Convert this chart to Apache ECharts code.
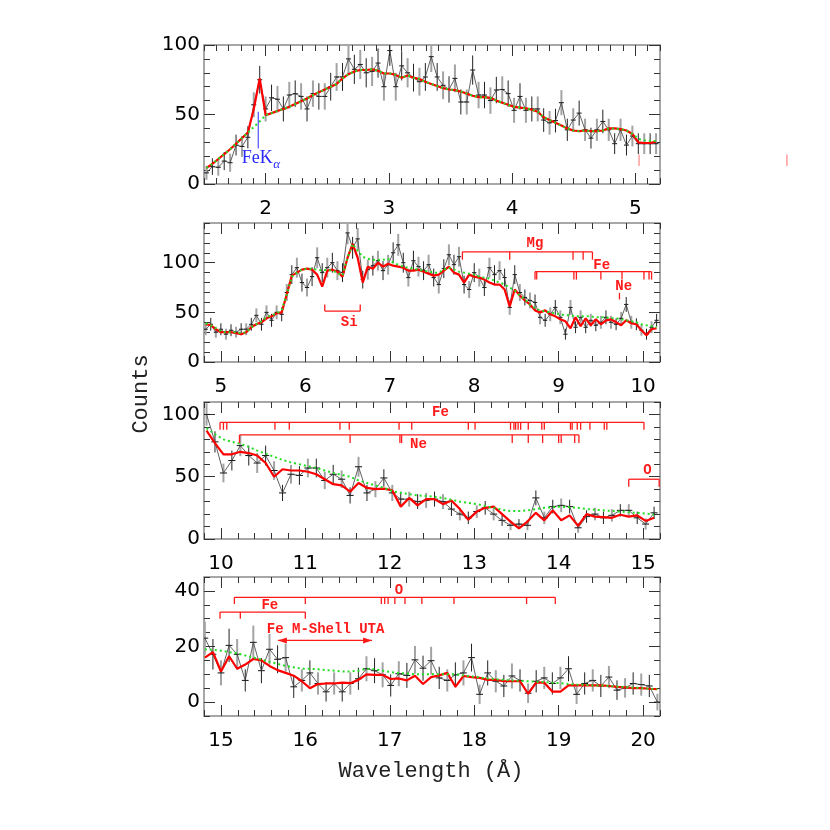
<!DOCTYPE html>
<html>
<head>
<meta charset="utf-8">
<script src="https://cdn.jsdelivr.net/npm/echarts@6/dist/echarts.min.js"></script>
<style>
html, body { margin: 0; padding: 0; background: #fff; }
#chart { width: 830px; height: 830px; }
</style>
</head>
<body>
<div id="chart"></div>
<script>
// panel 1 : 1.5 - 5.2 A
var p1Start = 1.52, p1Step = 0.048;
var p1Counts = [8,12.5,12,16.5,15.3,28,27,33.6,57,75, 54,62,61,54,64,65,63,54,65,63,
  63,70,77,77,90,82.5,86,80,81,87, 70,96,70,85,80,76.5,73.6,77,91.6,77,
  71,68,76,59,59,82,64,64,60,67.6, 68,65,53,63,53,54,54,46,44,45.6,
  58.5,39,46,51,39,33,39,45,39,29, 39,28,34.5,29,29,29,29];
var p1Err = [5,6,6,6.5,6.5,7.5,7.5,8,9,10, 9,9.5,9.5,9,9.5,9.5,9.5,9,9.5,9.5,
  9.5,10,10,10,11,10.5,10.5,10.5,10.5,10.5, 10,11,10,10.5,10.5,10,10,10,11,10,
  10,9.5,10,9,9,10.5,9.5,9.5,9.5,9.5, 9.5,9.5,9,9.5,9,9,9,8.5,8.5,8.5,
  9,8,8.5,9,8,7.5,8,8.5,8,7.5, 8,7.5,7.5,7.5,7.5,7.5,7.5];
var p1Model = [11.5,14.5,18,21.5,25,29,33,37,54,76, 49.5,51,52.5,54,55.5,57.5,59.5,61.5,64,66,
  68,70,72,76,79,81,82,82,82.5,81.5, 79.5,79.5,78.5,76.5,78,76.5,75.5,73.5,72,70.5,
  69,68,67.5,66.5,65,63.5,62.5,62.5,62,60, 58.5,57,55.5,55,54.5,53.5,52,48,46,44,
  42,40,38.5,38,38.5,38,38,38.5,40,40, 39.5,38.5,36,30,29.5,29.5,30.5];
var p1Cont = [11.5,14.5,18,21.5,25,29,33,37,41,45, 49.5,51,52.5,54,55.5,57.5,59.5,61.5,64,66,
  68,70,72,76,79,81,82,82,82.5,81.5, 79.5,79.5,78.5,76.5,78,76.5,75.5,73.5,72,70.5,
  69,68,67.5,66.5,65,63.5,62.5,62.5,62,60, 58.5,57,55.5,55,54.5,53.5,52,48,46,44,
  42,40,38.5,38,38.5,38,38,38.5,40,40, 39.5,38.5,36,32.5,31.5,31,31];

// panel 2 : 4.8 - 10.2 A
var p2Start = 4.82, p2Step = 0.06;
var p2Counts = [33,38,30,33,28,32,30,33,33,38, 47,38,50,42,50,48,70,88,95,80,
  75,86,105,90,95,100,92,90,130,115, 124,83,93,97,102,92,98,110,118,100,
  85,102,96,92,98,85,78,94,108,98, 106,78,73,90,85,75,95,88,92,85,
  55,88,70,65,62,60,45,42,48,55, 45,28,55,35,45,35,42,37,40,45,
  40,38,44,58,40,38,32,28,35,42];
var p2Err = [6,6.5,5.5,6,5.5,6,5.5,6,6,6.5, 7,6.5,7,6.5,7,7,8.5,9.5,10,9,
  9,9.5,10.5,9.5,10,10,9.5,9.5,11.5,11, 11,9,10,10,10,9.5,10,10.5,11,10,
  9,10,10,9.5,10,9,9,9.5,10.5,10, 10,9,8.5,9.5,9,8.5,10,9.5,9.5,9,
  7.5,9.5,8.5,8,8,8,7,6.5,7,7.5, 7,5.5,7.5,6,7,6,6.5,6,6.5,7,
  6.5,6,6.5,7.5,6.5,6,5.5,5.5,6,6.5];
var p2Model = [38,37,33,30,30,30,29,28,30,35, 38,40,44,46,49,50,68,87,90,93,
  94,93,88,76,92,93,91,86,105,119, 105,80,96,94,100,96,99,97,96,95,
  92,92,93,91,89,87,88,92,96,90, 88,80,88,86,85,83,80,78,78,73,
  56,73,67,62,58,52,50,52,48,46, 43,41,34,45,36,44,37,43,38,42,
  43,40,37,42,39,38,32,27,33,34];
var p2Cont = [39,37,34,31,30,30,30,29,30,35, 38,41,45,47,49,52,68,86,90,93,
  94,94,93,92,93,92,90,87,105,119, 112,106,104,103,103,103,104,100,98,96,
  95,94,93,92,91,90,90,93,95,93, 91,90,89,88,86,85,84,82,80,78,
  75,72,67,63,58,54,52,51,50,49, 48,47,47,46,46,46,46,45,45,45,
  44,44,43,42,41,40,38,37,36,35];

// panel 3 : 9.8 - 15.2 A
var p3Start = 9.83, p3Step = 0.1;
var p3Counts = [100,78,53,63,75,67,61,67,55,37, 52,51,57,57,47,52,48,35,58,37,
  40,49,37,32,32,30,31,32,30,24, 20,17,22,25,20,15,11,12,11,33,
  17,26,27,26,9,18,20,17,19,23, 23,17,12,21];
var p3Err = [9,8.5,7.5,8,8.5,8,8,8,7.5,6.5, 7.5,7.5,7.5,7.5,7,7.5,7,6.5,8,6.5,
  6.5,7,6.5,6,6,6,6,6,6,5.5, 5,5,5,5.5,5,4.5,4,4,4,6,
  5,5.5,5.5,5.5,4,5,5,5,5,5, 5,5,4.5,5];
var p3Model = [87,77,68,68,70,69,67,61,50,56, 55,55,54,52,48,44,43,38,45,41,
  40,40.5,39,26,33,27,32,32,28,31, 24,15.5,22,25,26,20,14,8.5,14,21,
  15,23,15,19,10.5,20,18,17.5,17,19.5, 18,19,14.5,17];
var p3Cont = [89,84,80,78,76.5,74,71,68.5,66,63.5, 61.5,60,58.5,57,55,53,51.5,50,47,45,
  43,41,38.5,37,36,35,34.5,34,33,31.5, 30,29,28,26.5,25,23.5,22.5,22.5,23,24,
  25,25.5,26,25.5,25,24,23.5,23,22.5,22, 21.5,21,20.5,19.5];

// panel 4 : 14.8 - 20.2 A
var p4Start = 14.81, p4Step = 0.0957;
var p4Counts = [23,17.2,10.5,20.4,17.2,7.8,21.5,11.3,19,15.4, 16,5.5,7.8,10.5,6.7,3.7,6.7,3.7,6.7,8.4,
  12,11.3,9.8,6,10.2,9.6,15.2,12.2,14.9,8.7, 7.8,9.8,10.5,16,2.8,10.5,7.5,5.8,9.4,7.8,
  3.2,7.5,8.7,6.7,8.7,12,2.8,6.7,7.8,5.8, 9,4.3,5.1,6.7,6.3,5.8,0];
var p4Err = [6,5.5,4.5,6,5.5,4,6,4.5,5.5,5, 5,4,4,4.5,4,3.5,4,3.5,4,4,
  4.5,4.5,4.5,4,4.5,4.5,5,4.5,5,4, 4,4.5,4.5,5,3.5,4.5,4,4,4.5,4,
  3.5,4,4,4,4,4.5,3.5,4,4,4, 4,3.5,3.5,4,4,4,3];
var p4Model = [16,18,11,16.5,12,13.5,15.5,15,13,11.5, 10.5,9.5,7.5,5,6.5,6.7,6.7,7,6.8,8,
  10,9.8,9.8,8.3,8.5,7.8,9.5,6.5,9,9.6, 10.5,5.5,9.4,9,8.7,8,8,7.5,7.5,7.5,
  3,7,7,3.8,3.8,6,6,6,6,6, 5.8,5.5,5.3,5,5,4.8,4.7];
var p4Cont = [19,18.8,18.5,18,17.5,16.8,16,15.3,14.5,13.8, 13,12.5,12,12,11.8,11.5,11.3,11,11,11.3,
  12,11.8,11.3,10.8,10.5,10.3,10,10,10,10, 10,10,9.6,9.2,8.9,8.5,8.2,8,7.8,7.6,
  7.5,7.3,7.2,7,6.8,6.5,6.3,6.2,6,6, 5.8,5.6,5.4,5.2,5,4.8,4.7];

// tick labels
var p1XTicks = [2, 3, 4, 5], p1YTicks = [0, 50, 100];
var p2XTicks = [5, 6, 7, 8, 9, 10], p2YTicks = [0, 50, 100];
var p3XTicks = [10, 11, 12, 13, 14, 15], p3YTicks = [0, 50, 100];
var p4XTicks = [15, 16, 17, 18, 19, 20], p4YTicks = [0, 20, 40];

// line identifications (wavelengths, A)
var feKaLine = [1.94];
var p1Marks = [5.03, 6.23];
var p2SiLines = [6.23, 6.65];
var p2MgLines = [7.86, 8.42, 9.17, 9.29, 9.40];
var p2FeLines = [8.72, 8.74, 9.18, 9.21, 9.50, 9.75, 10.01, 10.07, 10.10];
var p2NeLines = [9.72];
var p3FeLines = [9.99, 10.03, 10.07, 10.64, 10.81, 11.41, 11.52, 12.11, 12.26, 12.93, 13.01,
  13.43, 13.47, 13.49, 13.52, 13.55, 13.64, 13.80, 13.83, 14.14, 14.16, 14.22, 14.26,
  14.37, 14.54, 14.57, 15.01];
var p3NeLines = [10.22, 11.53, 12.12, 12.14, 13.45, 13.64, 13.81, 14.00, 14.03, 14.19, 14.24];
var p3OLines = [14.83, 15.19];
var p4OLines = [15.16, 16.0, 16.90, 16.94, 16.98, 17.06, 17.18, 17.38, 17.76, 18.62, 18.96];
var p4FeLines = [14.99, 15.23, 16.0];
var utaRange = [15.675, 16.79];

var RED = '#ff1a1a';
var tickColor = '#333';

var layout = [
  { top: 45, height: 139, xr: [1.5, 5.2], xm: 0.1, yr: [0, 100], ym: 10, xt: p1XTicks, yt: p1YTicks },
  { top: 223, height: 139, xr: [4.8, 10.2], xm: 0.2, yr: [0, 140], ym: 10, xt: p2XTicks, yt: p2YTicks },
  { top: 402, height: 137, xr: [9.8, 15.2], xm: 0.2, yr: [0, 110], ym: 10, xt: p3XTicks, yt: p3YTicks },
  { top: 577, height: 139, xr: [14.8, 20.2], xm: 0.2, yr: [-5, 45], ym: 5, xt: p4XTicks, yt: p4YTicks }
];

function binX(start, step, n) {
  var a = [];
  for (var i = 0; i < n; i++) a.push(+(start + step * i).toFixed(4));
  return a;
}
function pairs(xs, ys) {
  return ys.map(function (y, i) { return [xs[i], y]; });
}

var grids = [], xAxes = [], yAxes = [];
layout.forEach(function (p, g) {
  grids.push({ left: 204, width: 456, top: p.top, height: p.height, show: true,
    borderColor: '#8a8a8a', borderWidth: 1.5 });
  var xb = { type: 'value', gridIndex: g, min: p.xr[0], max: p.xr[1],
    axisLine: { show: false, onZero: false }, splitLine: { show: false } };
  var yb = { type: 'value', gridIndex: g, min: p.yr[0], max: p.yr[1],
    axisLine: { show: false, onZero: false }, splitLine: { show: false } };
  var major = function (vals) {
    return { inside: true, length: 11, customValues: vals, lineStyle: { color: tickColor, width: 1 } };
  };
  var minor = { inside: true, length: 6, lineStyle: { color: tickColor, width: 1 } };
  var lab = function (vals, m) {
    return { customValues: vals, margin: m, fontSize: 20, fontFamily: 'DejaVu Sans', color: '#000' };
  };
  xAxes.push(Object.assign({}, xb, { position: 'bottom', axisTick: major(p.xt), axisLabel: lab(p.xt, 15) }));
  xAxes.push(Object.assign({}, xb, { position: 'bottom', interval: p.xm, axisTick: minor, axisLabel: { show: false } }));
  xAxes.push(Object.assign({}, xb, { position: 'top', axisTick: major(p.xt), axisLabel: { show: false } }));
  xAxes.push(Object.assign({}, xb, { position: 'top', interval: p.xm, axisTick: minor, axisLabel: { show: false } }));
  yAxes.push(Object.assign({}, yb, { position: 'left', axisTick: major(p.yt), axisLabel: lab(p.yt, 4) }));
  yAxes.push(Object.assign({}, yb, { position: 'left', interval: p.ym, axisTick: minor, axisLabel: { show: false } }));
  yAxes.push(Object.assign({}, yb, { position: 'right', axisTick: major(p.yt), axisLabel: { show: false } }));
  yAxes.push(Object.assign({}, yb, { position: 'right', interval: p.ym, axisTick: minor, axisLabel: { show: false } }));
});

function spectrum(g, start, step, counts, err, model, cont) {
  var xs = binX(start, step, counts.length);
  var ax = { xAxisIndex: 4 * g, yAxisIndex: 4 * g, silent: true };
  return [
    Object.assign({
      type: 'custom', clip: true, z: 1, encode: { x: 0, y: 1 },
      data: xs.map(function (x, i) { return [x, counts[i], err[i]]; }),
      renderItem: function (params, api) {
        var x = api.value(0), y = api.value(1), e = api.value(2);
        var t = api.coord([x, y + e]), b = api.coord([x, y - e]);
        var l = api.coord([x - step * 0.42, y]), r = api.coord([x + step * 0.42, y]);
        var odd = params.dataIndex % 2 === 1;
        return { type: 'group', children: [
          { type: 'line', shape: { x1: t[0], y1: t[1], x2: b[0], y2: b[1] },
            style: { stroke: odd ? '#222' : '#a3a3a3', lineWidth: odd ? 1 : 2 } },
          { type: 'line', shape: { x1: l[0], y1: l[1], x2: r[0], y2: r[1] },
            style: { stroke: '#111', lineWidth: 1 } }
        ] };
      }
    }, ax),
    Object.assign({ type: 'line', z: 2, symbol: 'none', data: pairs(xs, counts),
      lineStyle: { color: '#3a3a3a', width: 0.8 } }, ax),
    Object.assign({ type: 'line', z: 3, symbol: 'none', data: pairs(xs, model),
      lineStyle: { color: '#ff0000', width: 2.2 } }, ax),
    Object.assign({ type: 'line', z: 4, symbol: 'none', data: pairs(xs, cont),
      lineStyle: { color: '#22dd22', width: 2, type: [2, 3] } }, ax)
  ];
}

function bracket(g, lines, b) {
  return {
    type: 'custom', xAxisIndex: 4 * g, yAxisIndex: 4 * g, clip: false, z: 6, silent: true,
    encode: { x: 0, y: 1 },
    data: lines.map(function (l) { return [l, b.level]; }),
    renderItem: function (params, api) {
      var x = api.value(0);
      var a = api.coord([x, b.level]), c = api.coord([x, b.tickTo]);
      var kids = [{ type: 'line', shape: { x1: a[0], y1: a[1], x2: c[0], y2: c[1] },
        style: { stroke: b.color || RED, lineWidth: b.width || 1.3 } }];
      if (params.dataIndex === 0) {
        if (lines.length > 1 && !b.noBar) {
          var p0 = api.coord([Math.min.apply(null, lines), b.level]);
          var p1 = api.coord([Math.max.apply(null, lines), b.level]);
          kids.push({ type: 'line', shape: { x1: p0[0], y1: p0[1], x2: p1[0], y2: p1[1] },
            style: { stroke: RED, lineWidth: 1.3 } });
        }
        if (b.label) {
          var t = api.coord(b.labelAt);
          kids.push({ type: 'text', x: t[0], y: t[1], style: { text: b.label, fill: RED,
            font: 'bold 14px "Liberation Mono"', align: 'center', verticalAlign: 'middle' } });
        }
      }
      return { type: 'group', children: kids };
    }
  };
}

var series = []
  .concat(spectrum(0, p1Start, p1Step, p1Counts, p1Err, p1Model, p1Cont))
  .concat(spectrum(1, p2Start, p2Step, p2Counts, p2Err, p2Model, p2Cont))
  .concat(spectrum(2, p3Start, p3Step, p3Counts, p3Err, p3Model, p3Cont))
  .concat(spectrum(3, p4Start, p4Step, p4Counts, p4Err, p4Model, p4Cont));

series.push(bracket(0, p1Marks, { level: 21.3, tickTo: 13, color: '#ff9c9c', width: 1.5, noBar: true }));
series.push(bracket(1, p2SiLines, { level: 51.3, tickTo: 58, label: 'Si', labelAt: [6.52, 39.5] }));
series.push(bracket(1, p2MgLines, { level: 111, tickTo: 103, label: 'Mg', labelAt: [8.72, 119] }));
series.push(bracket(1, p2FeLines, { level: 91, tickTo: 83, label: 'Fe', labelAt: [9.51, 97.5] }));
series.push(bracket(1, p2NeLines, { level: 69.7, tickTo: 63, label: 'Ne', labelAt: [9.77, 76] }));
series.push(bracket(2, p3FeLines, { level: 93.7, tickTo: 87.7, label: 'Fe', labelAt: [12.6, 101.4] }));
series.push(bracket(2, p3NeLines, { level: 83.6, tickTo: 77, label: 'Ne', labelAt: [12.34, 76] }));
series.push(bracket(2, p3OLines, { level: 48, tickTo: 42, label: 'O', labelAt: [15.05, 55] }));
series.push(bracket(3, p4OLines, { level: 37.7, tickTo: 35.3, label: 'O', labelAt: [17.11, 40] }));
series.push(bracket(3, p4FeLines, { level: 32.4, tickTo: 30, label: 'Fe', labelAt: [15.58, 34.7] }));

// Fe K alpha marker
series.push({
  type: 'custom', xAxisIndex: 0, yAxisIndex: 0, clip: false, z: 6, silent: true,
  encode: { x: 0, y: 1 },
  data: feKaLine.map(function (l) { return [l, 52]; }),
  renderItem: function (params, api) {
    var x = api.value(0);
    var a = api.coord([x, 52]), c = api.coord([x, 25.6]);
    var t = api.coord([1.806, 18.7]), s = api.coord([2.062, 14]);
    return { type: 'group', children: [
      { type: 'line', shape: { x1: a[0], y1: a[1], x2: c[0], y2: c[1] }, style: { stroke: '#2a2aff', lineWidth: 1 } },
      { type: 'text', x: t[0], y: t[1], style: { text: 'FeK', fill: '#2a2aff',
        font: '18px "Liberation Serif"', align: 'left', verticalAlign: 'middle' } },
      { type: 'text', x: s[0], y: s[1], style: { text: 'α', fill: '#2a2aff',
        font: 'italic 13px "Liberation Serif"', align: 'left', verticalAlign: 'middle' } }
    ] };
  }
});

// Fe M-shell UTA arrow
series.push({
  type: 'custom', xAxisIndex: 12, yAxisIndex: 12, clip: false, z: 6, silent: true,
  encode: { x: 0, y: 1 },
  data: [[utaRange[0], 22.2, utaRange[1]]],
  renderItem: function (params, api) {
    var a = api.coord([api.value(0), api.value(1)]), b = api.coord([api.value(2), api.value(1)]);
    var t = api.coord([16.24, 26.2]);
    return { type: 'group', children: [
      { type: 'line', shape: { x1: a[0], y1: a[1], x2: b[0], y2: b[1] }, style: { stroke: RED, lineWidth: 1.3 } },
      { type: 'polygon', shape: { points: [[a[0], a[1]], [a[0] + 9, a[1] - 3], [a[0] + 9, a[1] + 3]] }, style: { fill: RED } },
      { type: 'polygon', shape: { points: [[b[0], b[1]], [b[0] - 9, b[1] - 3], [b[0] - 9, b[1] + 3]] }, style: { fill: RED } },
      { type: 'text', x: t[0], y: t[1], style: { text: 'Fe M-Shell UTA', fill: RED,
        font: 'bold 14px "Liberation Mono"', align: 'center', verticalAlign: 'middle' } }
    ] };
  }
});

var chart = echarts.init(document.getElementById('chart'), null, { renderer: 'canvas' });
chart.setOption({
  animation: false,
  backgroundColor: '#fff',
  grid: grids,
  xAxis: xAxes,
  yAxis: yAxes,
  series: series,
  graphic: [
    { type: 'text', x: 141, y: 394, rotation: Math.PI / 2,
      style: { text: 'Counts', font: '22px "Liberation Mono"', fill: '#222', align: 'center', verticalAlign: 'middle' } },
    { type: 'text', x: 431, y: 771,
      style: { text: 'Wavelength (Å)', font: '22px "Liberation Mono"', fill: '#222', align: 'center', verticalAlign: 'middle' } }
  ]
});
</script>
</body>
</html>
